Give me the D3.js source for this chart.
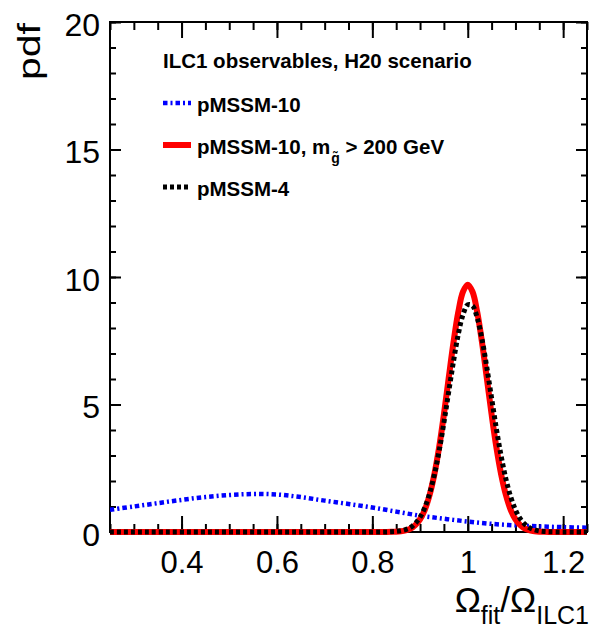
<!DOCTYPE html>
<html>
<head>
<meta charset="utf-8">
<script src="https://cdn.jsdelivr.net/npm/d3@7"></script>
<style>
  body { margin: 0; background: #fff; }
  text { font-family: "Liberation Sans", Arial, sans-serif; fill: #000; }
</style>
</head>
<body>
<div id="chart"></div>
<script>
var width = 592, height = 634;
var margin = {top: 22, right: 5, bottom: 102, left: 110};

// pMSSM-10 (blue, broad)
var blueX = [0.25, 0.30, 0.35, 0.40, 0.45, 0.50, 0.55, 0.60, 0.65, 0.70, 0.75,
             0.80, 0.85, 0.90, 0.95, 1.00, 1.05, 1.10, 1.15, 1.20, 1.25];
var blueY = [0.87, 1.00, 1.13, 1.26, 1.37, 1.45, 1.49, 1.47, 1.37, 1.23, 1.10,
             0.96, 0.80, 0.64, 0.52, 0.41, 0.32, 0.26, 0.22, 0.19, 0.17];

// peak region grid shared by the two narrow curves
var peakX = [0.25, 0.80, 0.83, 0.84, 0.85, 0.86, 0.87, 0.88, 0.89, 0.90, 0.91, 0.92,
             0.93, 0.94, 0.95, 0.96, 0.97, 0.98, 0.99, 1.00, 1.01, 1.02, 1.03, 1.04,
             1.05, 1.06, 1.07, 1.08, 1.09, 1.10, 1.11, 1.12, 1.13, 1.14, 1.15, 1.16,
             1.17, 1.20, 1.25];
// pMSSM-10, m_gluino > 200 GeV (red)
var redY = [0, 0, 0.002, 0.005, 0.012, 0.03, 0.064, 0.13, 0.27, 0.50, 0.87, 1.45,
            2.26, 3.32, 4.61, 6.03, 7.42, 8.61, 9.42, 9.70, 9.42, 8.61, 7.42, 6.03,
            4.61, 3.32, 2.26, 1.45, 0.87, 0.50, 0.27, 0.13, 0.064, 0.03, 0.012, 0.005,
            0.002, 0, 0];
// pMSSM-4 (black)
var blackY = [0, 0, 0.004, 0.010, 0.022, 0.048, 0.096, 0.18, 0.34, 0.58, 0.96, 1.51,
              2.25, 3.18, 4.29, 5.49, 6.68, 7.74, 8.52, 8.91, 8.87, 8.39, 7.55, 6.45,
              5.25, 4.05, 2.98, 2.08, 1.38, 0.87, 0.52, 0.30, 0.16, 0.084, 0.041, 0.019,
              0.009, 0.001, 0];

var xMajorTicks = [0.4, 0.6, 0.8, 1.0, 1.2];
var xTickLabels = ["0.4", "0.6", "0.8", "1", "1.2"];
var yMajorTicks = [0, 5, 10, 15, 20];
var yTickLabels = ["0", "5", "10", "15", "20"];

var legendHeader = "ILC1 observables, H20 scenario";
var legendLabels = ["pMSSM-10", "pMSSM-10, m", "pMSSM-4"];

var svg = d3.select("#chart").append("svg")
    .attr("width", width)
    .attr("height", height);

var x = d3.scaleLinear()
    .domain([0.25, 1.25])
    .range([margin.left, width - margin.right]);

var y = d3.scaleLinear()
    .domain([0, 20])
    .range([height - margin.bottom, margin.top]);

var xMinor = d3.range(0.25, 1.2501, 0.05).map(v => +v.toFixed(2));
var yMinor = d3.range(0, 20.01, 1);

function styleAxis(g) {
    g.select(".domain").remove();
    g.selectAll(".tick line").attr("stroke", "#000").attr("stroke-width", 2);
    g.selectAll("text").style("font-family", "'Liberation Sans', Arial, sans-serif");
}

// bottom
svg.append("g")
    .attr("transform", `translate(0,${y(0)})`)
    .call(d3.axisBottom(x).tickValues(xMinor).tickSizeInner(-8).tickSizeOuter(0).tickFormat(""))
    .call(styleAxis);
svg.append("g")
    .attr("transform", `translate(0,${y(0)})`)
    .call(d3.axisBottom(x).tickValues(xMajorTicks).tickSizeInner(-16).tickSizeOuter(0)
        .tickPadding(19).tickFormat((d, i) => xTickLabels[i]))
    .call(styleAxis)
    .call(g => g.selectAll("text").attr("font-size", 31));

// top
svg.append("g")
    .attr("transform", `translate(0,${y(20)})`)
    .call(d3.axisTop(x).tickValues(xMinor).tickSizeInner(-8).tickSizeOuter(0).tickFormat(""))
    .call(styleAxis);
svg.append("g")
    .attr("transform", `translate(0,${y(20)})`)
    .call(d3.axisTop(x).tickValues(xMajorTicks).tickSizeInner(-16).tickSizeOuter(0).tickFormat(""))
    .call(styleAxis);

// left
svg.append("g")
    .attr("transform", `translate(${x(0.25)},0)`)
    .call(d3.axisLeft(y).tickValues(yMinor).tickSizeInner(-6).tickSizeOuter(0).tickFormat(""))
    .call(styleAxis);
svg.append("g")
    .attr("transform", `translate(${x(0.25)},0)`)
    .call(d3.axisLeft(y).tickValues(yMajorTicks).tickSizeInner(-11).tickSizeOuter(0)
        .tickPadding(10).tickFormat((d, i) => yTickLabels[i]))
    .call(styleAxis)
    .call(g => g.selectAll("text").attr("font-size", 32).attr("dy", "0.42em"));

// right
svg.append("g")
    .attr("transform", `translate(${x(1.25)},0)`)
    .call(d3.axisRight(y).tickValues(yMinor).tickSizeInner(-6).tickSizeOuter(0).tickFormat(""))
    .call(styleAxis);
svg.append("g")
    .attr("transform", `translate(${x(1.25)},0)`)
    .call(d3.axisRight(y).tickValues(yMajorTicks).tickSizeInner(-11).tickSizeOuter(0).tickFormat(""))
    .call(styleAxis);

// frame
svg.append("rect")
    .attr("x", x(0.25))
    .attr("y", y(20))
    .attr("width", x(1.25) - x(0.25))
    .attr("height", y(0) - y(20))
    .attr("fill", "none")
    .attr("stroke", "#000")
    .attr("stroke-width", 2);

// curves
svg.append("clipPath").attr("id", "clip")
    .append("rect")
    .attr("x", x(0.25))
    .attr("y", 0)
    .attr("width", x(1.25) - x(0.25))
    .attr("height", height);

var plot = svg.append("g").attr("clip-path", "url(#clip)");

var line = d3.line()
    .x(d => x(d[0]))
    .y(d => y(d[1]))
    .curve(d3.curveCatmullRom);

var styles = [
    {color: "#0000ff", width: 4.5, dash: "4.5,3,2,3"},
    {color: "#ff0000", width: 6, dash: null},
    {color: "#000000", width: 5, dash: "4,3"}
];

plot.append("path")
    .datum(d3.zip(blueX, blueY))
    .attr("d", line)
    .attr("fill", "none")
    .attr("stroke", styles[0].color)
    .attr("stroke-width", styles[0].width)
    .attr("stroke-dasharray", styles[0].dash);

plot.append("path")
    .datum(d3.zip(peakX, redY))
    .attr("d", line)
    .attr("fill", "none")
    .attr("stroke", styles[1].color)
    .attr("stroke-width", styles[1].width)
    .attr("stroke-linejoin", "round");

plot.append("path")
    .datum(d3.zip(peakX, blackY))
    .attr("d", line)
    .attr("fill", "none")
    .attr("stroke", styles[2].color)
    .attr("stroke-width", styles[2].width)
    .attr("stroke-dasharray", styles[2].dash);

// legend
var legend = svg.append("g");
legend.append("text")
    .attr("x", 163)
    .attr("y", 68)
    .attr("font-size", 20.5)
    .attr("font-weight", "bold")
    .text(legendHeader);

var rowY = [112, 154, 196];
legendLabels.forEach(function (label, i) {
    legend.append("line")
        .attr("x1", 163).attr("x2", 191)
        .attr("y1", rowY[i] - 9).attr("y2", rowY[i] - 9)
        .attr("stroke", styles[i].color)
        .attr("stroke-width", styles[i].width)
        .attr("stroke-dasharray", styles[i].dash);
    var t = legend.append("text")
        .attr("x", 197)
        .attr("y", rowY[i])
        .attr("font-size", 20.5)
        .attr("font-weight", "bold")
        .text(label);
    if (i === 1) {
        // subscript gluino, then the rest of the label in the same text
        t.append("tspan")
            .attr("font-size", 14)
            .attr("dx", 1)
            .attr("dy", 9)
            .text("g\u0303");
        t.append("tspan")
            .attr("dy", -9)
            .attr("xml:space", "preserve")
            .text("\u00A0> 200 GeV");
    }
});

// axis titles
svg.append("text")
    .attr("transform", "translate(40,23) rotate(-90)")
    .attr("text-anchor", "end")
    .attr("font-size", 31)
    .attr("textLength", 57)
    .attr("lengthAdjust", "spacingAndGlyphs")
    .text("pdf");

var xt = svg.append("text")
    .attr("x", 589)
    .attr("y", 612)
    .attr("text-anchor", "end")
    .attr("font-size", 35);
xt.append("tspan").text("\u03A9");
xt.append("tspan").attr("font-size", 25).attr("dy", 12).text("fit");
xt.append("tspan").attr("dy", -12).text("/\u03A9");
xt.append("tspan").attr("font-size", 25).attr("dy", 12).text("ILC1");
</script>
</body>
</html>
